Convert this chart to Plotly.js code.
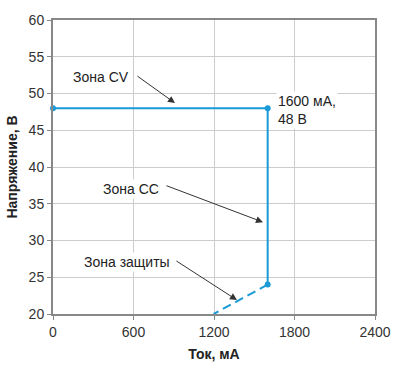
<!DOCTYPE html>
<html><head><meta charset="utf-8">
<script src="https://cdn.plot.ly/plotly-3.0.1.min.js"></script>
<style>html,body{margin:0;padding:0;background:#fff}</style>
</head><body><div id="chart" style="width:400px;height:369px"></div>
<script>
// Main characteristic (solid): CV zone then CC zone
const currentSolid = [0, 1600, 1600];
const voltageSolid = [48, 48, 24];
// Protection zone (dashed)
const currentDash = [1600, 1197];
const voltageDash = [24, 20];
const xTicks = [0, 600, 1200, 1800, 2400];
const yTicks = [20, 25, 30, 35, 40, 45, 50, 55, 60];
const labels = ["Зона CV", "Зона CC", "Зона защиты", "1600 мА,<br>48 В"];

const blue = '#1a9ad6';
const traces = [
  {x: currentSolid, y: voltageSolid, mode: 'lines+markers', type: 'scatter',
   line: {color: blue, width: 2}, marker: {color: blue, size: 6}, cliponaxis: false, hoverinfo: 'skip'},
  {x: currentDash, y: voltageDash, mode: 'lines', type: 'scatter',
   line: {color: blue, width: 2, dash: '9px,5px'}, hoverinfo: 'skip'}
];
const font = {family: 'Liberation Sans, Arial, sans-serif', size: 14, color: '#222'};
const arrowStyle = {showarrow: true, arrowhead: 2, arrowsize: 1.4, arrowwidth: 1, arrowcolor: '#333', text: '', xref: 'x', yref: 'y'};
const layout = {
  width: 400, height: 369,
  margin: {l: 53, r: 25, t: 20, b: 55},
  paper_bgcolor: '#fff', plot_bgcolor: '#fff',
  showlegend: false,
  font: font,
  xaxis: {range: [0, 2400], tickvals: xTicks, ticktext: xTicks.map(String),
    showgrid: true, gridcolor: '#cccccc', gridwidth: 1, zeroline: false,
    showline: true, linecolor: '#888', linewidth: 2, mirror: true,
    ticks: 'outside', ticklen: 4, tickcolor: '#888',
    tickfont: {family: font.family, size: 14, color: '#333'},
    title: {text: '<b>Ток, мА</b>', font: {family: font.family, size: 14, color: '#222'}, standoff: 10}},
  yaxis: {range: [20, 60], tickvals: yTicks, ticktext: yTicks.map(String),
    showgrid: true, gridcolor: '#cccccc', gridwidth: 1, zeroline: false,
    showline: true, linecolor: '#888', linewidth: 2, mirror: true,
    ticks: 'outside', ticklen: 4, tickcolor: '#888',
    tickfont: {family: font.family, size: 14, color: '#333'},
    title: {text: '<b>Напряжение, В</b>', font: {family: font.family, size: 14, color: '#222'}, standoff: 8}},
  annotations: [
    Object.assign({}, arrowStyle, {x: 909, y: 48.7, ax: -39, ay: -28}),
    Object.assign({}, arrowStyle, {x: 1565, y: 32.5, ax: -98, ay: -37}),
    Object.assign({}, arrowStyle, {x: 1371, y: 21.9, ax: -62, ay: -40}),
    {text: labels[0], x: 360, y: 52.2, xref: 'x', yref: 'y', showarrow: false, bgcolor: '#fff', font: font},
    {text: labels[1], x: 585, y: 37.0, xref: 'x', yref: 'y', showarrow: false, bgcolor: '#fff', font: font},
    {text: labels[2], x: 555, y: 27.1, xref: 'x', yref: 'y', showarrow: false, bgcolor: '#fff', font: font},
    {text: labels[3], x: 1665, y: 47.8, xref: 'x', yref: 'y', showarrow: false, bgcolor: '#fff', font: font,
     xanchor: 'left', align: 'left'}
  ]
};
Plotly.newPlot('chart', traces, layout, {displayModeBar: false, staticPlot: true});
</script></body></html>
